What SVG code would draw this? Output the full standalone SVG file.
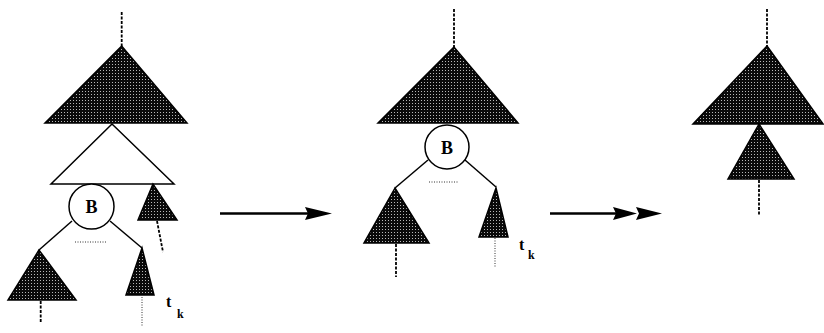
<svg xmlns="http://www.w3.org/2000/svg" width="824" height="333" viewBox="0 0 824 333">
<defs>
<pattern id="stip" width="3" height="3" patternUnits="userSpaceOnUse">
<rect width="3" height="3" fill="#0a0a0a"/>
<rect x="1" y="1" width="1" height="1" fill="#b8b8b8"/>
</pattern>
</defs>
<style>
.tri{fill:url(#stip);stroke:#000;stroke-width:1.5;stroke-linejoin:miter}
.wtri{fill:#fff;stroke:#000;stroke-width:1.5}
.circ{fill:#fff;stroke:#000;stroke-width:1.5}
.edge{stroke:#000;stroke-width:1.5;fill:none}
.dash{stroke:#000;stroke-width:1.8;stroke-dasharray:3 1.5;fill:none}
.dot{stroke:#333;stroke-width:1;stroke-dasharray:1 1.5;fill:none}
.arr{stroke:#000;stroke-width:2.5;fill:none}
.head{fill:#000;stroke:none}
.lbl{font-family:"Liberation Serif",serif;font-weight:bold;fill:#000}
</style>
<rect width="824" height="333" fill="#fff"/>
<g id="connectors">
<line class="dash" x1="121.7" y1="12" x2="121.7" y2="46"/>
<line class="dash" x1="157" y1="221" x2="163" y2="252"/>
<line class="edge" x1="72" y1="221" x2="39" y2="250"/>
<line class="edge" x1="110" y1="221" x2="142" y2="248"/>
<line class="dot" x1="75" y1="242" x2="107" y2="242"/>
<line class="dash" x1="40.7" y1="301" x2="40.7" y2="323"/>
<line class="dot" x1="142" y1="297" x2="142" y2="326"/>
<line class="dash" x1="454" y1="9" x2="454" y2="47"/>
<line class="edge" x1="428" y1="160" x2="395" y2="188"/>
<line class="edge" x1="465" y1="160" x2="496" y2="187"/>
<line class="dot" x1="429" y1="182" x2="459" y2="182"/>
<line class="dash" x1="396" y1="244" x2="396" y2="277"/>
<line class="dot" x1="495" y1="238" x2="495" y2="268"/>
<line class="dash" x1="767" y1="9" x2="767" y2="46"/>
<line class="dash" x1="759" y1="180" x2="759" y2="215"/>
<line class="arr" x1="220" y1="213.5" x2="308" y2="213.5"/>
<polygon class="head" points="305,207 332,213.5 305,220 308,213.5"/>
<line class="arr" x1="550" y1="213.5" x2="616" y2="213.5"/>
<polygon class="head" points="613,207 637,213.5 613,220 616,213.5"/>
<polygon class="head" points="636,207 662,213.5 636,220 639,213.5"/>
</g>
<g id="p1-top"><polygon class="tri" points="121.7,46 45,123 187,123"/></g>
<g id="p1-white"><polygon class="wtri" points="112,124 51,184 174,184"/></g>
<g id="p1-side"><polygon class="tri" points="153,184 138,220 177,220"/></g>
<g id="p1-B"><circle class="circ" cx="91.5" cy="206.5" r="22.5"/><text class="lbl" x="91.5" y="213" font-size="18" text-anchor="middle">B</text></g>
<g id="p1-left"><polygon class="tri" points="39,250 8,300 76,300"/></g>
<g id="p1-right"><polygon class="tri" points="142,248 126,295 154,295"/></g>
<g id="p1-tk"><text class="lbl" x="166" y="307" font-size="16">t</text><text class="lbl" x="177" y="318" font-size="12">k</text></g>
<g id="p2-top"><polygon class="tri" points="454,47 378,123 518,123"/></g>
<g id="p2-B"><circle class="circ" cx="447" cy="147" r="22"/><text class="lbl" x="447" y="153.5" font-size="18" text-anchor="middle">B</text></g>
<g id="p2-left"><polygon class="tri" points="395,188 364,243 429,243"/></g>
<g id="p2-right"><polygon class="tri" points="496,188 479,237 508,237"/></g>
<g id="p2-tk"><text class="lbl" x="519" y="250" font-size="16">t</text><text class="lbl" x="528" y="259" font-size="12">k</text></g>
<g id="p3-top"><polygon class="tri" points="767,46 693,124 823,124"/></g>
<g id="p3-sub"><polygon class="tri" points="759,124 728,179 794,179"/></g>
</svg>
